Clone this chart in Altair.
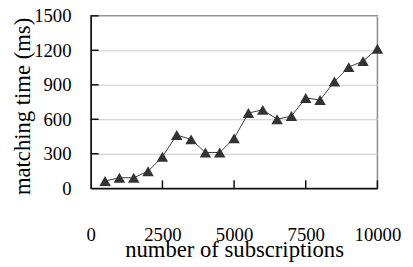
import altair as alt
import pandas as pd

subscriptions = [500, 1000, 1500, 2000, 2500, 3000, 3500, 4000, 4500, 5000,
                 5500, 6000, 6500, 7000, 7500, 8000, 8500, 9000, 9500, 10000]
matching_ms = [63, 91, 91, 148, 274, 463, 425, 311, 311, 434,
               654, 682, 600, 628, 785, 768, 928, 1054, 1106, 1214]
x_ticks = [0, 2500, 5000, 7500, 10000]
y_ticks = [0, 300, 600, 900, 1200, 1500]

W, H = 291, 175
FONT = "Times New Roman, Liberation Serif, serif"

df = pd.DataFrame({"n": subscriptions, "t": matching_ms})
xt = pd.DataFrame({"n": x_ticks[1:]})
yt = pd.DataFrame({"t": y_ticks[1:]})

xscale = alt.Scale(domain=[0, 10000], nice=False)
yscale = alt.Scale(domain=[0, 1500], nice=False)

xaxis = alt.Axis(values=x_ticks, format="d", tickSize=0, labelPadding=38,
                 labelOverlap=False, titleY=69, titleBaseline="alphabetic",
                 grid=False, labelFlush=False)
yaxis = alt.Axis(values=y_ticks, format="d", tickSize=0, labelPadding=20,
                 labelOverlap=False, titleX=-69, titleY=H / 2 + 4,
                 titleAngle=270, titleAlign="center", titleBaseline="middle",
                 grid=True, gridColor="#c8c8c8", gridWidth=1, labelFlush=False)

X = alt.X("n:Q", scale=xscale, title="number of subscriptions", axis=xaxis)
Y = alt.Y("t:Q", scale=yscale, title="matching time (ms)", axis=yaxis)

base = alt.Chart(df)

line = base.mark_line(color="#3a3a3a", strokeWidth=1).encode(x=X, y=Y)

pts = base.mark_point(shape="triangle-up", filled=True, color="#333333",
                      size=135, opacity=1).encode(x=X, y=Y)

xticks = alt.Chart(xt).mark_rule(color="#111", strokeWidth=1.5).encode(
    x=X, y=alt.value(H), y2=alt.value(H - 8),
)
yticks = alt.Chart(yt).mark_rule(color="#111", strokeWidth=1.5).encode(
    y=Y, x=alt.value(0), x2=alt.value(8),
)

chart = alt.layer(line, xticks, yticks, pts).properties(
    width=W, height=H,
    autosize=alt.AutoSizeParams(type="none"),
    padding={"left": 84, "top": 6, "right": 28, "bottom": 77},
).configure(
    background="white", font=FONT,
    view=alt.ViewConfig(stroke="#8a8a8a", strokeWidth=1.5),
    axis=alt.AxisConfig(
        labelFont=FONT, titleFont=FONT, labelFontSize=19, titleFontSize=23,
        labelColor="#000", titleColor="#000", titleFontWeight="normal",
        domainColor="#111", domainWidth=1.5,
    ),
)

chart.save("out.html", embed_options={"renderer": "svg", "actions": False})
